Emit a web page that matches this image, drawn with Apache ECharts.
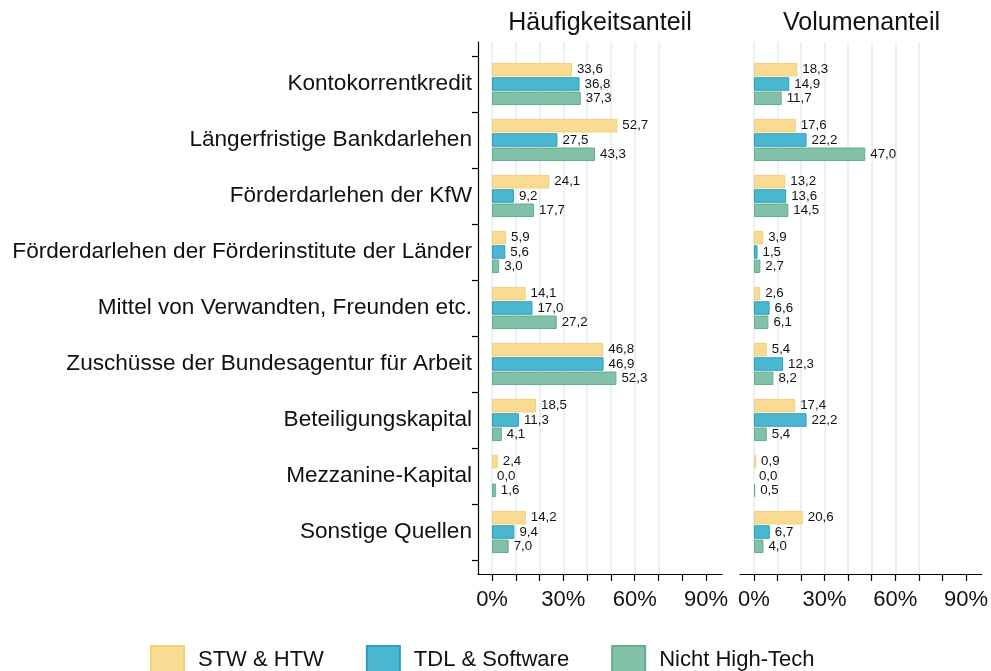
<!DOCTYPE html>
<html>
<head>
<meta charset="utf-8">
<script src="https://cdn.jsdelivr.net/npm/echarts@6/dist/echarts.min.js"></script>
<style>
  html, body { margin: 0; padding: 0; background: #fff; }
  #chart { width: 991px; height: 671px; }
</style>
</head>
<body>
<div id="chart"></div>
<script>
const categories = [
  'Kontokorrentkredit',
  'Längerfristige Bankdarlehen',
  'Förderdarlehen der KfW',
  'Förderdarlehen der Förderinstitute der Länder',
  'Mittel von Verwandten, Freunden etc.',
  'Zuschüsse der Bundesagentur für Arbeit',
  'Beteiligungskapital',
  'Mezzanine-Kapital',
  'Sonstige Quellen'
]
const seriesNames = ['STW & HTW', 'TDL & Software', 'Nicht High-Tech']
const panelTitles = ['Häufigkeitsanteil', 'Volumenanteil']

// Häufigkeitsanteil (%)
const freqStw = [33.6, 52.7, 24.1, 5.9, 14.1, 46.8, 18.5, 2.4, 14.2]
const freqTdl = [36.8, 27.5, 9.2, 5.6, 17.0, 46.9, 11.3, 0.0, 9.4]
const freqNht = [37.3, 43.3, 17.7, 3.0, 27.2, 52.3, 4.1, 1.6, 7.0]
// Volumenanteil (%)
const volStw = [18.3, 17.6, 13.2, 3.9, 2.6, 5.4, 17.4, 0.9, 20.6]
const volTdl = [14.9, 22.2, 13.6, 1.5, 6.6, 12.3, 22.2, 0.0, 6.7]
const volNht = [11.7, 47.0, 14.5, 2.7, 6.1, 8.2, 5.4, 0.5, 4.0]

const xTicks = [0, 10, 20, 30, 40, 50, 60, 70, 80, 90]
const xLabels = [0, 30, 60, 90]
const xGridLines = [0, 10, 20, 30, 40, 50, 60, 70]

const fills = ['#fadb93', '#4bb7d0', '#82c1a7']
const borders = ['#f3cf78', '#2a9fc0', '#62ae8d']
const font = 'Liberation Sans, Arial, Helvetica, sans-serif'

const xMin = -5.9, xMax = 96.7
const panels = [
  { left: 478, width: 244, data: [freqStw, freqTdl, freqNht] },
  { left: 740, width: 243, data: [volStw, volTdl, volNht] }
]

const grid = [], xAxis = [], yAxis = [], series = [], title = []

panels.forEach((p, i) => {
  // axes grid (full height, carries axis lines, ticks, labels, gridlines)
  grid.push({ left: p.left, width: p.width, top: 42, height: 532 })
  // bars grid (category bands)
  grid.push({ left: p.left, width: p.width, top: 56, height: 504 })
  const ga = i * 2, gb = i * 2 + 1

  title.push({
    text: panelTitles[i], left: p.left + p.width / 2, top: 11, textAlign: 'center', padding: 0,
    textStyle: { fontFamily: font, fontSize: 25, fontWeight: 'normal', color: '#111' }
  })

  xAxis.push({
    gridIndex: ga, type: 'value', min: xMin, max: xMax,
    axisLine: { show: true, onZero: false, lineStyle: { color: '#000', width: 1.2 } },
    axisTick: { show: true, length: 7, customValues: xTicks, lineStyle: { color: '#000', width: 1.2 } },
    axisLabel: { customValues: xLabels, formatter: v => v + '%', fontFamily: font, fontSize: 22, color: '#111', margin: 15 },
    splitLine: { show: false }
  })
  xAxis.push({ gridIndex: gb, type: 'value', min: xMin, max: xMax, show: false })

  yAxis.push({
    gridIndex: ga, type: 'value', inverse: true, min: -0.75, max: 8.75,
    axisLine: { show: i === 0, onZero: false, lineStyle: { color: '#000', width: 1.2 } },
    axisTick: { show: i === 0, length: 6, customValues: categories.map((c, k) => k - 0.5).concat([8.5]), lineStyle: { color: '#000', width: 1.2 } },
    axisLabel: { show: i === 0, customValues: categories.map((c, k) => k), formatter: v => categories[Math.round(v)], fontFamily: font, fontSize: 22.6, color: '#111', margin: 6 },
    splitLine: { show: false }
  })
  yAxis.push({ gridIndex: gb, type: 'category', data: categories, inverse: true, show: false })

  series.push({
    type: 'line', xAxisIndex: ga, yAxisIndex: ga, data: [], silent: true, z: 0,
    markLine: {
      silent: true, symbol: 'none', animation: false, z: 0,
      label: { show: false },
      lineStyle: { color: '#e3edf1', type: 'solid', width: 1.5 },
      data: xGridLines.map(v => ({ xAxis: v }))
    }
  })

  p.data.forEach((vals, s) => {
    series.push({
      name: seriesNames[s], type: 'bar', xAxisIndex: gb, yAxisIndex: gb, z: 3,
      // zero values get no visible outline
      data: vals.map(v => v === 0 ? { value: v, itemStyle: { borderWidth: 0 } } : v),
      barWidth: 13.5, barGap: '6%',
      itemStyle: { color: fills[s], borderColor: borders[s], borderWidth: 1 },
      label: {
        show: true, position: 'right', distance: 5,
        formatter: d => d.value.toFixed(1).replace('.', ','),
        fontFamily: font, fontSize: 13.3, color: '#111'
      }
    })
  })
})

const chart = echarts.init(document.getElementById('chart'), null, { renderer: 'canvas' })
chart.setOption({
  animation: false,
  backgroundColor: '#fff',
  title,
  grid, xAxis, yAxis, series,
  legend: {
    data: seriesNames, left: 150, top: 645, icon: 'rect', padding: 0,
    itemWidth: 33, itemHeight: 27, itemGap: 42,
    textStyle: { fontFamily: font, fontSize: 22, color: '#111', padding: [0, 0, 0, 9] }
  }
})
</script>
</body>
</html>
